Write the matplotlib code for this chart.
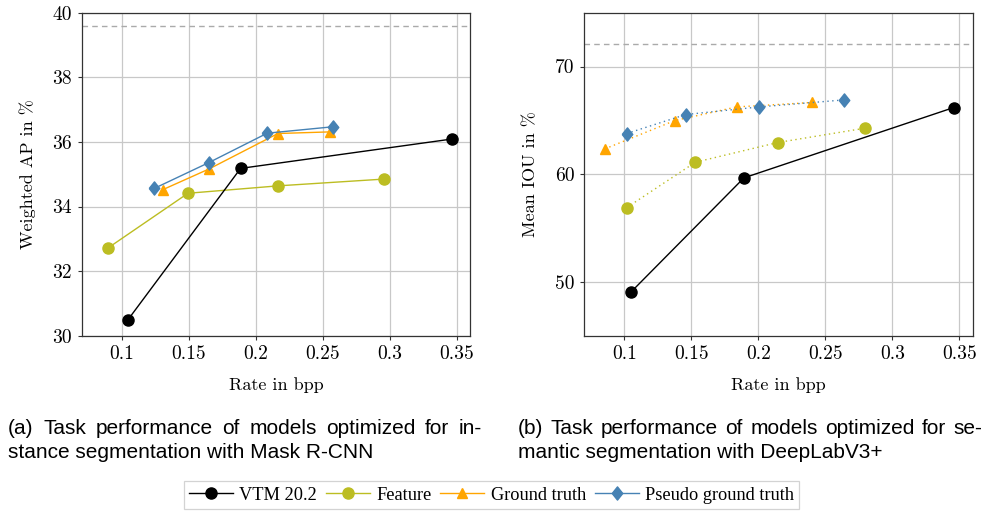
import matplotlib
matplotlib.use("Agg")
import matplotlib.pyplot as plt
from matplotlib.lines import Line2D

plt.rcParams['font.family'] = ['cmr10', 'DejaVu Serif']
plt.rcParams['axes.formatter.use_mathtext'] = True
plt.rcParams['mathtext.fontset'] = 'cm'

# (a) instance segmentation, Mask R-CNN
vtm_rate_a = [0.1045, 0.1887, 0.3467]
vtm_ap = [30.49, 35.18, 36.09]
feat_rate_a = [0.0898, 0.1494, 0.2169, 0.296]
feat_ap = [32.72, 34.41, 34.64, 34.85]
gt_rate_a = [0.1305, 0.165, 0.2166, 0.2553]
gt_ap = [34.52, 35.16, 36.26, 36.31]
pgt_rate_a = [0.1242, 0.165, 0.2086, 0.258]
pgt_ap = [34.56, 35.36, 36.27, 36.47]
ref_ap = 39.6

# (b) semantic segmentation, DeepLabV3+
vtm_rate_b = [0.1052, 0.1892, 0.3458]
vtm_iou = [49.1, 59.66, 66.19]
feat_rate_b = [0.1017, 0.1529, 0.2143, 0.2794]
feat_iou = [56.9, 61.11, 62.94, 64.27]
gt_rate_b = [0.0853, 0.1375, 0.1837, 0.2399]
gt_iou = [62.35, 64.98, 66.25, 66.66]
pgt_rate_b = [0.1017, 0.1457, 0.2006, 0.2638]
pgt_iou = [63.78, 65.54, 66.25, 66.9]
ref_iou = 72.07

x_ticks = [0.1, 0.15, 0.2, 0.25, 0.3, 0.35]
x_labels = ['0.1', '0.15', '0.2', '0.25', '0.3', '0.35']

caption_a = ['(a) Task performance of models optimized for in-',
             'stance segmentation with Mask R-CNN']
caption_b = ['(b) Task performance of models optimized for se-',
             'mantic segmentation with DeepLabV3+']

c_vtm = 'black'
c_feat = '#bcbd22'
c_gt = '#ffa500'
c_pgt = '#4682b4'

# pgfplots style diamond (a bit wider than matplotlib's thin one)
diamond = [(-0.8, 0), (0, 1), (0.8, 0), (0, -1), (-0.8, 0)]
dotted = (0, (1, 2.5))

fig = plt.figure(figsize=(9.84, 5.12), dpi=100)
ax1 = fig.add_axes([0.083, 0.3443, 0.3946, 0.6309])
ax2 = fig.add_axes([0.5938, 0.3443, 0.3947, 0.6309])


def style_axis(ax, ylabel, yticks):
    ax.set_xlim(0.07, 0.36)
    ax.set_xticks(x_ticks)
    ax.set_xticklabels(x_labels)
    ax.set_yticks(yticks)
    ax.set_yticklabels([str(t) for t in yticks])
    ax.grid(True, color='#c8c8c8', linewidth=0.9)
    ax.set_axisbelow(True)
    ax.tick_params(direction='out', length=3, width=0.8, color='#333333', labelsize=14, pad=4)
    for s in ax.spines.values():
        s.set_color('#333333')
        s.set_linewidth(0.9)
    ax.set_xlabel('Rate in bpp', fontsize=13, labelpad=10)
    ax.set_ylabel(ylabel, fontsize=13, labelpad=12)


# panel a
ax1.axhline(ref_ap, color='#aaaaaa', linestyle=(0, (4, 3)), linewidth=1)
ax1.plot(feat_rate_a, feat_ap, '-', marker='o', color=c_feat, lw=1, ms=8, zorder=3)
ax1.plot(gt_rate_a, gt_ap, '-', marker='^', color=c_gt, lw=1, ms=7.5, zorder=4)
ax1.plot(pgt_rate_a, pgt_ap, '-', marker=diamond, color=c_pgt, lw=1, ms=9.5, zorder=5)
ax1.plot(vtm_rate_a, vtm_ap, '-', marker='o', color=c_vtm, lw=1, ms=8, zorder=6)
ax1.set_ylim(30, 40)
style_axis(ax1, 'Weighted AP in %', [30, 32, 34, 36, 38, 40])

# panel b
ax2.axhline(ref_iou, color='#aaaaaa', linestyle=(0, (4, 3)), linewidth=1)
ax2.plot(feat_rate_b, feat_iou, linestyle=dotted, marker='o', color=c_feat, lw=1, ms=8, zorder=3)
ax2.plot(gt_rate_b, gt_iou, linestyle=dotted, marker='^', color=c_gt, lw=1, ms=7.5, zorder=4)
ax2.plot(pgt_rate_b, pgt_iou, linestyle=dotted, marker=diamond, color=c_pgt, lw=1, ms=9.5, zorder=5)
ax2.plot(vtm_rate_b, vtm_iou, '-', marker='o', color=c_vtm, lw=1, ms=8, zorder=6)
ax2.set_ylim(45, 75)
style_axis(ax2, 'Mean IOU in %', [50, 60, 70])

# captions (first line justified like the LaTeX subcaption)
cap_font = dict(family='Liberation Sans', fontsize=15, va='baseline', ha='left')
renderer = fig.canvas.get_renderer()
W = fig.bbox.width


def caption(lines, x0, x1, y0, dy):
    words = lines[0].split(' ')
    texts = [fig.text(0, 1 - y0 / 512, w, **cap_font) for w in words]
    widths = [t.get_window_extent(renderer).width for t in texts]
    gap = (x1 - x0 - sum(widths)) / (len(words) - 1)
    x = x0
    for t, w in zip(texts, widths):
        t.set_x(x / W)
        x += w + gap
    fig.text(x0 / W, 1 - (y0 + dy) / 512, lines[1], **cap_font)


caption(caption_a, 8, 482, 434, 24)
caption(caption_b, 518, 982, 434, 24)

# legend
handles = [
    Line2D([], [], color=c_vtm, marker='o', lw=1, ms=8),
    Line2D([], [], color=c_feat, marker='o', lw=1, ms=8),
    Line2D([], [], color=c_gt, marker='^', lw=1, ms=7.5),
    Line2D([], [], color=c_pgt, marker=diamond, lw=1, ms=9.5),
]
labels = ['VTM 20.2', 'Feature', 'Ground truth', 'Pseudo ground truth']
leg = fig.legend(handles, labels, loc='center', bbox_to_anchor=(0.4995, 0.033),
                 ncol=4, frameon=True, fancybox=False, edgecolor='#c8c8c8',
                 prop={'family': 'Liberation Serif', 'size': 13.2},
                 handlelength=2.4, handletextpad=0.33, columnspacing=0.5,
                 borderpad=0.3)
leg.get_frame().set_linewidth(0.9)

fig.savefig('out.png', dpi=100)
